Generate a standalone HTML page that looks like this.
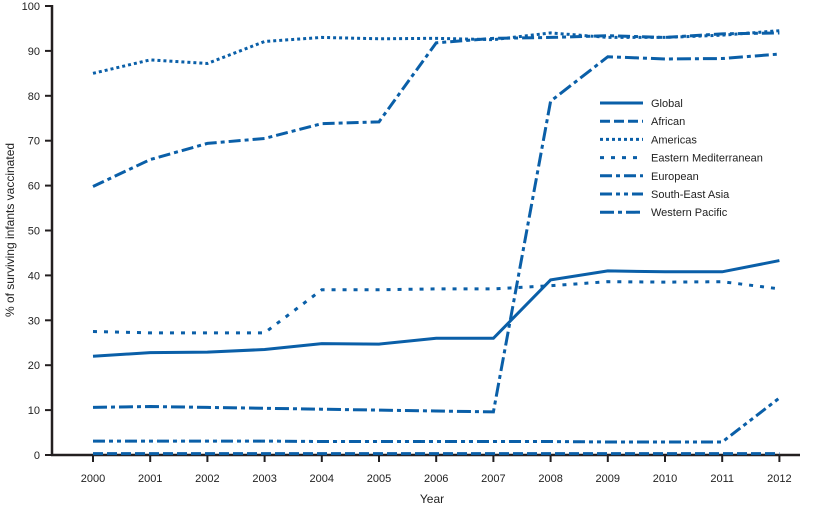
<!DOCTYPE html>
<html><head><meta charset="utf-8"><style>body{margin:0;background:#fff}svg{display:block}</style></head><body>
<svg width="824" height="510" xmlns="http://www.w3.org/2000/svg" font-family="Liberation Sans, sans-serif" font-size="11" fill="#222">
<g stroke="#231f20" stroke-width="2.5" fill="none">
<line x1="52" y1="5" x2="52" y2="456"/><line x1="51" y1="455" x2="800" y2="455"/>
</g>
<g id="yt" stroke="#231f20" stroke-width="2"></g>
<g id="xt" stroke="#231f20" stroke-width="2"></g>
<g id="lab"></g>
<g id="series" fill="none" stroke="#0a5fa8" stroke-width="3"></g>
<text x="432" y="503" text-anchor="middle" font-size="12">Year</text>
<text transform="translate(14,230) rotate(-90)" text-anchor="middle" font-size="12">% of surviving infants vaccinated</text>
<g id="leg" font-size="11"></g>
<script>
var ns="http://www.w3.org/2000/svg";
function el(p,t,a,txt){var e=document.createElementNS(ns,t);for(var k in a)e.setAttribute(k,a[k]);if(txt!=null)e.textContent=txt;document.getElementById(p).appendChild(e);}
function X(i){return 93+i*57.2}function Y(v){return 455-v*4.49}
for(var v=0;v<=100;v+=10){el("yt","line",{x1:45,x2:52,y1:Y(v),y2:Y(v)});el("lab","text",{x:40,y:Y(v)+4,"text-anchor":"end"},v);}
for(var i=0;i<13;i++){el("xt","line",{x1:X(i),x2:X(i),y1:455,y2:462});el("lab","text",{x:X(i),y:482,"text-anchor":"middle"},2000+i);}
var S=[
["Global",[22,22.8,22.9,23.5,24.8,24.7,26,26,39,41,40.8,40.8,43.3],"none"],
["African",[0.3,0.3,0.3,0.3,0.3,0.3,0.3,0.3,0.3,0.3,0.3,0.3,0.3],"10 4"],
["Americas",[85,88,87.2,92.1,93,92.7,92.8,92.5,94,93,93,93.5,94.5],"3 3"],
["Eastern Mediterranean",[27.5,27.2,27.2,27.2,36.8,36.8,37,37,37.7,38.6,38.5,38.6,37],"4 7"],
["European",[59.8,65.8,69.4,70.5,73.8,74.2,91.8,92.8,93,93.4,93,93.8,94],"12 4 4 4"],
["South-East Asia",[3.1,3.1,3.1,3.1,3,3,3,3,3,2.9,2.9,2.9,12.7],"12 4 4 4 4 4"],
["Western Pacific",[10.6,10.8,10.6,10.4,10.2,10,9.8,9.6,78.8,88.7,88.2,88.3,89.3],"14 4 4 4"]];
S.forEach(function(s,j){var pts=s[1].map(function(v,i){return X(i)+","+Y(v)}).join(" ");
el("series","polyline",{points:pts,"stroke-dasharray":s[2]});
var y=103+j*18.2;el("series","line",{x1:600,x2:643,y1:y,y2:y,"stroke-dasharray":s[2]});
el("leg","text",{x:651,y:y+4},s[0]);});
</script>
</svg>
</body></html>
